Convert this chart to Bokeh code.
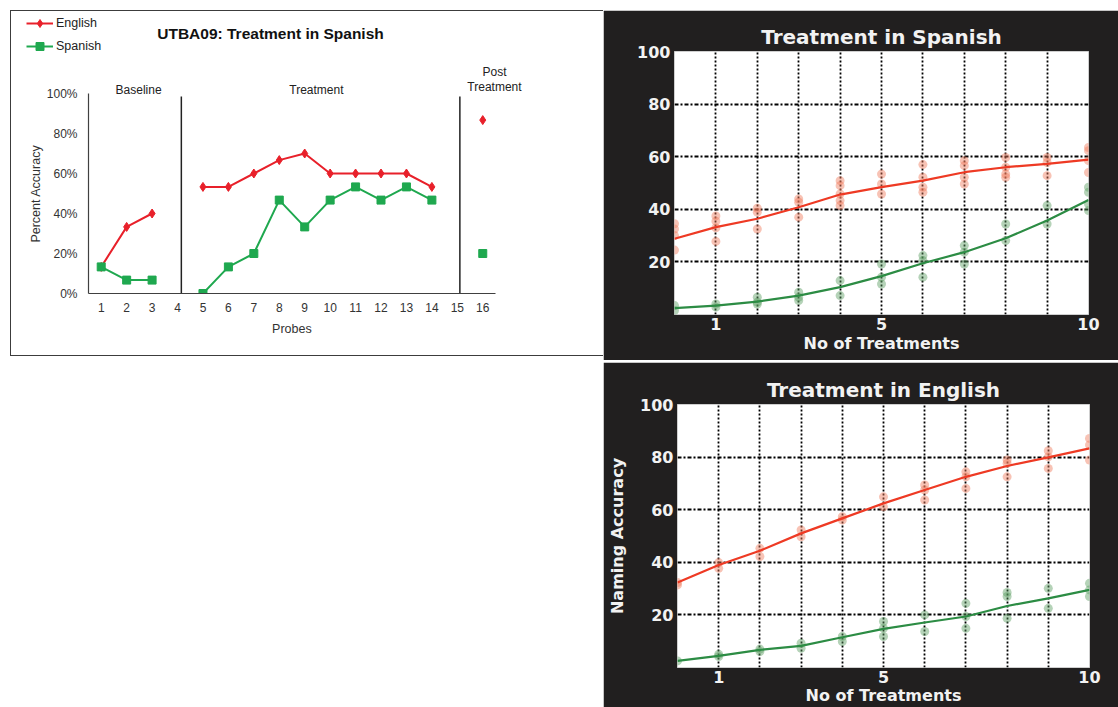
import numpy as np
from bokeh.plotting import figure
from bokeh.models import FixedTicker, Label, Legend, LegendItem, Spacer
from bokeh.layouts import row, column
from bokeh.embed import file_html
from bokeh.resources import INLINE

nan = np.nan
NBSP = "\u00a0"

# ---------------- Left chart data (UTBA09) ----------------
probes = list(range(1, 17))
english_pct = [13.3, 33.3, 40.0, nan, 53.3, 53.3, 60.0, 66.7, 70.0, 60.0, 60.0, 60.0, 60.0, 53.3, nan, 86.7]
spanish_pct = [13.3, 6.7, 6.7, nan, 0.0, 13.3, 20.0, 46.7, 33.3, 46.7, 53.3, 46.7, 53.3, 46.7, nan, 20.0]
y_ticks_pct = [0, 20, 40, 60, 80, 100]
y_tick_labels_pct = ["0%", "20%", "40%", "60%", "80%", "100%"]
phase_breaks = [4.15, 15.1]
phase_line_top = 98.5
phase_names = ["Baseline", "Treatment"]
phase_name_x = [2.47, 9.46]
post_lines = ["Post", "Treatment"]

# ---------------- Right charts data ----------------
treatments = list(range(0, 11))
# Treatment in Spanish
sp_tx_english_fit = [28.8, 33.2, 36.4, 40.8, 45.6, 48.4, 50.9, 54.1, 56.0, 57.3, 58.9]
sp_tx_spanish_fit = [2.4, 3.4, 4.9, 7.2, 10.4, 14.6, 19.5, 23.7, 29.0, 35.7, 43.5]
sp_tx_english_obs = [[34.5, 32.5, 30.0, 24.5], [37.5, 35.5, 33.0, 27.8], [40.4, 38.9, 32.5],
                     [43.9, 42.7, 37.0], [50.9, 49.0, 45.8, 43.3, 41.4], [53.4, 49.6, 45.8],
                     [57.0, 52.2, 48.4, 46.5], [58.5, 56.6, 52.2, 49.6], [59.7, 56.0, 53.4, 52.2],
                     [59.7, 57.8, 52.8], [63.5, 62.3, 58.5, 54.0]]
sp_tx_spanish_obs = [[3.4, 1.5], [4.0, 2.8], [6.6, 4.7, 4.0], [8.5, 6.6, 5.3], [12.9, 7.2],
                     [19.2, 14.2, 11.6], [22.4, 20.5, 14.2], [26.2, 23.7, 19.2], [34.4, 28.1],
                     [41.4, 34.4], [48.4, 46.5, 42.0, 39.5]]
# Treatment in English
en_tx_english_fit = [32.3, 39.0, 44.4, 51.0, 56.7, 62.4, 67.5, 72.5, 76.6, 79.9, 83.3]
en_tx_spanish_fit = [2.5, 4.4, 6.7, 8.2, 11.5, 14.7, 17.1, 19.4, 23.4, 26.3, 29.5]
en_tx_english_obs = [[32.3, 31.4], [39.9, 37.7], [45.3, 42.2], [52.3, 49.7], [57.3, 56.1],
                     [64.9, 61.1], [69.4, 67.5, 63.7], [74.4, 72.5, 68.1], [78.9, 77.6, 72.5],
                     [82.4, 80.1, 75.7], [87.1, 84.6, 78.9]]
en_tx_spanish_obs = [[2.5], [5.0, 4.2], [7.0, 6.1], [9.2, 7.3], [11.8, 9.9], [17.5, 14.9, 11.8],
                     [20.0, 13.7], [24.4, 19.4, 14.9], [28.5, 27.0, 18.7], [30.1, 22.5],
                     [32.0, 29.5, 27.0]]
x_tick_treat = [1, 5, 10]
y_tick_acc = [20, 40, 60, 80, 100]


def no_align(p):
    try:
        p.frame_align = False
    except Exception:
        pass


# ---------------- Left chart ----------------
RED = "#e8202a"
GREEN = "#1fa84f"
ARIAL = "Liberation Sans"
BORDER = "#3c3c3c"

# strip holding the legend and the title (pixel-like ranges; series lie outside its view)
ps = figure(width=592, height=51, x_range=(0, 592), y_range=(200, 251),
            output_backend="svg", toolbar_location=None,
            x_axis_location=None, y_axis_location=None,
            min_border_left=0, min_border_right=0, min_border_top=0, min_border_bottom=0)
no_align(ps)
ps.outline_line_color = None
ps.grid.visible = False
ps.background_fill_color = "white"
ps.border_fill_color = "white"
lg_en_line = ps.line(probes, english_pct, line_color=RED, line_width=2)
lg_en_pts = ps.scatter(probes, english_pct, marker="diamond", size=9, color=RED)
lg_es_line = ps.line(probes, spanish_pct, line_color=GREEN, line_width=2)
lg_es_pts = ps.scatter(probes, spanish_pct, marker="square", size=8, color=GREEN)
legend = Legend(items=[LegendItem(label="English", renderers=[lg_en_line, lg_en_pts]),
                       LegendItem(label="Spanish", renderers=[lg_es_line, lg_es_pts])],
                location=(15, 6), orientation="vertical", padding=0, margin=0, spacing=3,
                glyph_width=27, glyph_height=20, label_height=20, label_standoff=3,
                border_line_color=None, background_fill_alpha=0,
                label_text_font=ARIAL, label_text_font_size="12.5px", label_text_color="#222222")
ps.add_layout(legend)
ps.add_layout(Label(x=259, y=229, text="UTBA09: Treatment in Spanish", text_align="center",
                    text_baseline="middle", text_font=ARIAL, text_font_size="15.5px",
                    text_font_style="bold", text_color="#111111"))

pl = figure(width=592, height=293, x_range=(0.5, 18.27), y_range=(0, 115.5),
            output_backend="svg", toolbar_location=None,
            min_border_left=77, min_border_right=63, min_border_top=0, min_border_bottom=62)
no_align(pl)
pl.background_fill_color = "white"
pl.border_fill_color = "white"
pl.outline_line_color = None
pl.grid.visible = False

pl.xaxis.ticker = FixedTicker(ticks=probes)
pl.yaxis.ticker = FixedTicker(ticks=y_ticks_pct)
pl.yaxis.major_label_overrides = {t: l for t, l in zip(y_ticks_pct, y_tick_labels_pct)}
pl.xaxis.bounds = (0.5, 16.5)
pl.yaxis.bounds = (0, 100)
for ax in (pl.xaxis[0], pl.yaxis[0]):
    ax.major_tick_line_color = None
    ax.minor_tick_line_color = None
    ax.major_tick_out = 0
    ax.major_tick_in = 0
    ax.minor_tick_out = 0
    ax.axis_line_color = "#404040"
    ax.axis_line_width = 1.2
    ax.major_label_text_font = ARIAL
    ax.major_label_text_font_size = "12px"
    ax.major_label_text_color = "#333333"
    ax.axis_label_text_font = ARIAL
    ax.axis_label_text_font_size = "12.5px"
    ax.axis_label_text_font_style = "normal"
    ax.axis_label_text_color = "#333333"
# padding keeps the axis titles centred on the 0-100% / 1-16 part of the frame
pl.xaxis.axis_label = "Probes" + NBSP * 13
pl.xaxis.major_label_standoff = 9
pl.xaxis.axis_label_standoff = 7
pl.yaxis.axis_label = "Percent Accuracy" + NBSP * 9
pl.yaxis.major_label_standoff = 11
pl.yaxis.axis_label_standoff = 1

pl.segment(x0=phase_breaks, y0=[0] * len(phase_breaks), x1=phase_breaks,
           y1=[phase_line_top] * len(phase_breaks), line_color="#222222", line_width=1.5)

pl.line(probes, english_pct, line_color=RED, line_width=2)
pl.scatter(probes, english_pct, marker="diamond", size=9, color=RED)
pl.line(probes, spanish_pct, line_color=GREEN, line_width=2)
pl.scatter(probes, spanish_pct, marker="square", size=8, color=GREEN)

for name, xn in zip(phase_names, phase_name_x):
    pl.add_layout(Label(x=xn, y=102, text=name, text_align="center", text_baseline="middle",
                        text_font=ARIAL, text_font_size="12px", text_color="#222222"))
for txt, yy in zip(post_lines, [111, 103.5]):
    pl.add_layout(Label(x=16.46, y=yy, text=txt, text_align="center", text_baseline="middle",
                        text_font=ARIAL, text_font_size="12px", text_color="#222222"))


def rule(w, h):
    return Spacer(width=w, height=h, styles={"background-color": BORDER})


left_inner = row(rule(1, 344), column(ps, pl))
left_box = column(rule(593, 1), left_inner, rule(593, 1))
left_col = row(Spacer(width=10, height=356), column(Spacer(width=593, height=10), left_box))

# ---------------- Right charts ----------------
DARK = "#211f1f"
FG = "#f2f2f2"
DEJ = "DejaVu Sans"
LRED = "#ee3a24"
LGREEN = "#2c8c44"


def flatten(obs):
    xs, ys = [], []
    for t, vals in zip(treatments, obs):
        for v in vals:
            xs.append(t)
            ys.append(v)
    return xs, ys


def dark_panel(title, en_fit, es_fit, en_obs, es_obs, height, mb_left, mb_right, mb_top, mb_bottom,
               ylabel=None, xlabel_standoff=1):
    p = figure(width=515, height=height, x_range=(0, 10), y_range=(0, 100),
               output_backend="svg", toolbar_location=None, title=title,
               min_border_left=mb_left, min_border_right=mb_right,
               min_border_top=mb_top, min_border_bottom=mb_bottom)
    no_align(p)
    p.background_fill_color = "white"
    p.border_fill_color = DARK
    p.outline_line_color = "#cfcfcf"
    p.title.align = "center"
    p.title.text_font = DEJ
    p.title.text_font_size = "20px"
    p.title.text_font_style = "bold"
    p.title.text_color = FG
    p.title.standoff = 6
    p.title.offset = 3
    p.xaxis.ticker = FixedTicker(ticks=x_tick_treat)
    p.yaxis.ticker = FixedTicker(ticks=y_tick_acc)
    p.xgrid.ticker = FixedTicker(ticks=list(range(1, 10)))
    p.ygrid.ticker = FixedTicker(ticks=[20, 40, 60, 80])
    p.xgrid.grid_line_color = "#000000"
    p.xgrid.grid_line_dash = "2 2"
    p.xgrid.grid_line_width = 1.8
    p.ygrid.grid_line_color = "#000000"
    p.ygrid.grid_line_dash = "4 2 2 2"
    p.ygrid.grid_line_width = 1.8
    for ax in (p.xaxis[0], p.yaxis[0]):
        ax.axis_line_color = None
        ax.major_tick_line_color = None
        ax.minor_tick_line_color = None
        ax.major_tick_out = 0
        ax.major_tick_in = 0
        ax.minor_tick_out = 0
        ax.major_label_text_font = DEJ
        ax.major_label_text_font_size = "16px"
        ax.major_label_text_font_style = "bold"
        ax.major_label_text_color = FG
        ax.axis_label_text_font = DEJ
        ax.axis_label_text_font_size = "16px"
        ax.axis_label_text_font_style = "bold"
        ax.axis_label_text_color = FG
    p.xaxis.major_label_standoff = 3
    p.yaxis.major_label_standoff = 4
    p.xaxis.axis_label = "No of Treatments"
    p.xaxis.axis_label_standoff = xlabel_standoff
    if ylabel:
        p.yaxis.axis_label = ylabel
        p.yaxis.axis_label_standoff = 10

    ex, ey = flatten(en_obs)
    sx, sy = flatten(es_obs)
    p.scatter(ex, ey, size=9, fill_color="#f07a5a", fill_alpha=0.45, line_color=None)
    p.scatter(sx, sy, size=9, fill_color="#5a9e62", fill_alpha=0.45, line_color=None)
    p.line(treatments, en_fit, line_color=LRED, line_width=2.2)
    p.line(treatments, es_fit, line_color=LGREEN, line_width=2.2)
    return p


p_top = dark_panel("Treatment in Spanish", sp_tx_english_fit, sp_tx_spanish_fit,
                   sp_tx_english_obs, sp_tx_spanish_obs, 350, 71, 30, 41, 46)
p_bot = dark_panel("Treatment in English", en_tx_english_fit, en_tx_spanish_fit,
                   en_tx_english_obs, en_tx_spanish_obs, 345, 74, 29, 42, 40,
                   ylabel="Naming Accuracy", xlabel_standoff=0)

right_col = column(Spacer(width=515, height=10), p_top, Spacer(width=515, height=2), p_bot)
layout = row(left_col, right_col)

with open("out.html", "w") as f:
    f.write(file_html(layout, INLINE))
